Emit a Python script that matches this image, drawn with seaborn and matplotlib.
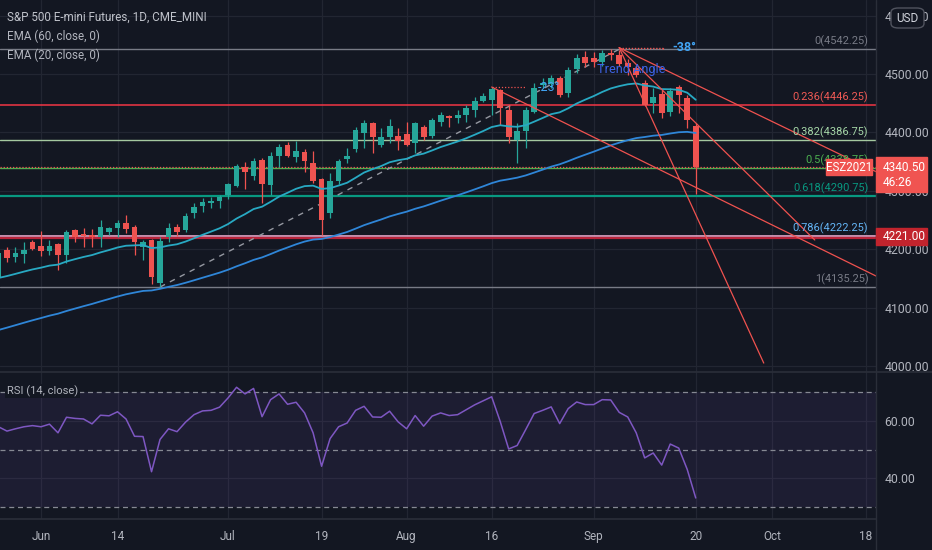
import numpy as np
import pandas as pd
import matplotlib
matplotlib.use("Agg")
import matplotlib.pyplot as plt
import seaborn as sns
from matplotlib.patches import Arc, Rectangle, FancyBboxPatch

# ---------------- data ----------------
holidays = ["2021-05-31", "2021-07-05", "2021-09-06"]
all_days = pd.bdate_range("2021-05-24", "2021-10-29")
trade_days = [d for d in all_days if d.strftime("%Y-%m-%d") not in holidays]

opens = [4150.7, 4198.6, 4186.6, 4191.7, 4212.3, 4205.4, 4196.9, 4208.9, 4190.0, 4232.8,
         4226.0, 4224.3, 4220.8, 4229.4, 4236.3, 4244.8, 4238.0, 4203.7, 4215.7, 4142.1,
         4220.8, 4238.0, 4232.8, 4261.9, 4273.9, 4279.1, 4282.5, 4292.8, 4308.2, 4340.7,
         4325.3, 4352.7, 4309.9, 4359.5, 4378.4, 4357.8, 4366.4, 4347.5, 4320.1, 4261.9,
         4316.7, 4354.4, 4371.5, 4398.9, 4416.0, 4378.4, 4392.0, 4393.8, 4397.2, 4381.8,
         4409.2, 4393.8, 4417.7, 4428.0, 4424.6, 4429.7, 4438.3, 4453.7, 4455.4, 4472.5,
         4438.3, 4386.9, 4402.3, 4434.8, 4481.1, 4482.8, 4493.1, 4467.4, 4508.5, 4529.0,
         4527.3, 4520.4, 4535.9, 4532.4, 4518.7, 4510.0, 4484.5, 4450.3, 4465.7, 4434.8,
         4477.6, 4458.8, 4410.9]
highs = [4196.9, 4203.7, 4203.7, 4212.3, 4215.7, 4231.0, 4215.7, 4210.6, 4232.8, 4234.0,
         4236.3, 4234.6, 4250.0, 4238.0, 4250.0, 4258.5, 4241.4, 4215.7, 4217.4, 4220.8,
         4244.8, 4243.0, 4261.9, 4279.1, 4287.6, 4289.3, 4292.8, 4313.3, 4345.8, 4349.2,
         4356.1, 4356.1, 4366.4, 4380.1, 4383.5, 4385.2, 4371.5, 4368.1, 4321.8, 4330.4,
         4354.4, 4373.2, 4409.2, 4421.2, 4418.0, 4407.5, 4422.9, 4407.5, 4417.7, 4417.7,
         4412.6, 4424.6, 4434.8, 4429.7, 4438.3, 4446.8, 4460.5, 4467.4, 4477.6, 4474.2,
         4446.8, 4416.0, 4443.4, 4484.5, 4493.1, 4498.2, 4496.5, 4511.9, 4534.2, 4540.0,
         4538.0, 4541.0, 4542.25, 4541.0, 4525.6, 4515.0, 4489.6, 4475.9, 4472.5, 4475.9,
         4481.1, 4464.0, 4416.0]
lows = [4148.0, 4178.0, 4178.0, 4176.3, 4198.6, 4188.3, 4190.0, 4164.4, 4176.3, 4212.3,
        4203.7, 4203.7, 4203.7, 4224.3, 4220.8, 4227.7, 4190.0, 4181.5, 4140.0, 4135.25,
        4212.3, 4222.6, 4229.4, 4253.4, 4263.6, 4270.5, 4270.5, 4285.9, 4306.5, 4303.0,
        4318.4, 4279.1, 4292.8, 4340.7, 4357.8, 4349.2, 4332.1, 4313.3, 4224.3, 4253.4,
        4311.6, 4347.5, 4366.4, 4373.2, 4364.7, 4374.9, 4381.8, 4369.8, 4376.7, 4364.7,
        4386.9, 4390.3, 4410.9, 4409.2, 4416.0, 4417.7, 4426.3, 4452.0, 4429.7, 4412.6,
        4381.8, 4347.5, 4373.2, 4433.1, 4475.9, 4475.9, 4460.5, 4460.5, 4501.6, 4511.9,
        4511.9, 4513.6, 4523.9, 4513.6, 4498.2, 4494.0, 4445.0, 4433.1, 4424.6, 4428.0,
        4433.1, 4407.5, 4294.0]
closes = [4193.5, 4184.9, 4193.5, 4198.6, 4200.3, 4196.9, 4205.4, 4190.0, 4229.4, 4220.8,
          4222.6, 4220.8, 4238.0, 4236.3, 4244.8, 4234.6, 4212.3, 4212.3, 4152.4, 4214.0,
          4236.3, 4229.4, 4256.8, 4272.2, 4280.8, 4282.5, 4289.3, 4311.6, 4342.4, 4332.1,
          4351.0, 4311.6, 4359.5, 4374.9, 4359.5, 4368.1, 4351.0, 4316.7, 4250.0, 4316.7,
          4351.0, 4359.5, 4404.0, 4416.0, 4392.0, 4392.0, 4410.9, 4385.2, 4378.4, 4416.0,
          4392.0, 4421.2, 4429.7, 4424.6, 4429.7, 4441.7, 4453.7, 4462.2, 4474.2, 4441.7,
          4392.0, 4402.3, 4438.3, 4475.9, 4484.5, 4493.1, 4464.0, 4506.8, 4527.3, 4518.7,
          4520.4, 4535.9, 4532.4, 4517.0, 4511.9, 4498.0, 4446.8, 4460.5, 4433.1, 4470.8,
          4464.0, 4421.2, 4340.5]
rsi = [57.9, 56.4, 57.2, 57.9, 58.3, 57.9, 58.8, 55.8, 61.2, 60.8,
       60.6, 58.9, 61.9, 61.7, 63.1, 60.6, 54.6, 54.5, 42.3, 53.5,
       57.2, 56.2, 59.5, 62.1, 63.4, 63.6, 64.7, 67.9, 71.6, 69.3,
       71.2, 61.4, 67.3, 69.3, 65.7, 66.4, 62.7, 55.8, 44.2, 53.8,
       57.9, 59.2, 63.6, 65.0, 61.3, 61.2, 63.3, 59.6, 57.2, 61.8,
       58.1, 61.6, 62.7, 61.8, 62.1, 63.8, 65.5, 66.9, 68.3, 59.8,
       50.2, 51.4, 56.9, 62.5, 63.6, 64.8, 59.0, 64.2, 66.5, 65.6,
       65.6, 67.3, 67.2, 62.9, 61.3, 55.8, 47.1, 48.8, 44.6, 51.9,
       50.5, 43.1, 33.2]
ema20_seed = 4150.7   # EMA(20) value read at the left edge
ema60_seed = 4061.6   # EMA(60) value read at the left edge

fib_ratios = ["0", "0.236", "0.382", "0.5", "0.618", "0.786", "1"]
fib_prices = [4542.25, 4446.25, 4386.75, 4338.75, 4290.75, 4222.25, 4135.25]
hline_price = 4221.00
last_price = 4340.50

tick_dates = ["2021-06-01", "2021-06-14", "2021-07-01", "2021-07-19", "2021-08-02",
              "2021-08-16", "2021-09-01", "2021-09-20", "2021-10-01", "2021-10-18"]
tick_labels = ["Jun", "14", "Jul", "19", "Aug", "16", "Sep", "20", "Oct", "18"]
price_ticks = [4000, 4100, 4200, 4300, 4400, 4500, 4600]
rsi_ticks = [40, 60]

# drawings: (date, price) anchors
fan_origin = ("2021-09-07", 4545.0)
fan_ends = [("2021-09-30", 4005.0), ("2021-10-08", 4215.7), ("2021-10-22", 4313.0)]
channel_line = [("2021-08-16", 4477.6), ("2021-10-22", 4134.0)]
fib_anchor = [("2021-06-21", 4135.25), ("2021-09-07", 4542.25)]

# ---------------- helpers ----------------
n = len(closes)
pos = {d.strftime("%Y-%m-%d"): i for i, d in enumerate(trade_days)}
def P(d):
    return pos[d]

idx = np.arange(n)
df = pd.DataFrame({"i": idx, "open": opens, "high": highs, "low": lows, "close": closes, "rsi": rsi})
df["ema20"] = pd.Series(np.r_[ema20_seed, closes[1:]]).ewm(span=20, adjust=False).mean()
df["ema60"] = pd.Series(np.r_[ema60_seed, closes[1:]]).ewm(span=60, adjust=False).mean()

BG = "#131722"
GRID = "#222632"
TXT = "#b2b5be"
UP = "#26a69a"
DN = "#ef5350"

sns.set_theme(style="dark", rc={"axes.facecolor": BG, "figure.facecolor": BG})
plt.rcParams["font.family"] = ["Roboto", "DejaVu Sans"]

W, H = 932, 550
fig = plt.figure(figsize=(W / 100, H / 100), dpi=100, facecolor=BG)
ax = fig.add_axes([0, 1 - 372 / H, 876 / W, 372 / H])
rax = fig.add_axes([0, 1 - 519 / H, 876 / W, 147 / H], sharex=ax)

xmin, xmax = 0.18, 103.2
for a in (ax, rax):
    a.set_facecolor(BG)
    for s in a.spines.values():
        s.set_visible(False)
    a.set_xlim(xmin, xmax)
    for t in tick_dates:
        a.axvline(P(t), color=GRID, lw=0.9, zorder=0)

ax.set_ylim(3989.7, 4626.6)
for p in price_ticks:
    ax.axhline(p, color=GRID, lw=0.9, zorder=0)

# fib levels
fib_line_colors = ["#787b86", "#f23645", "#a5c9a0", "#4caf50", "#089981", "#e6a6c8", "#787b86"]
fib_text_colors = ["#787b86", "#f05a55", "#a5d6a7", "#4caf50", "#089981", "#64b5f6", "#787b86"]
fib_lw = [1.0, 1.1, 1.0, 1.0, 1.6, 1.2, 1.0]
for r, p, lc, tc, lw in zip(fib_ratios, fib_prices, fib_line_colors, fib_text_colors, fib_lw):
    ax.axhline(p, color=lc, lw=lw, zorder=1)
    ax.text(102.3, p + 4, f"{r}({p:.2f})", color=tc, fontsize=7.9, ha="right", va="bottom", zorder=6)
ax.axhline(hline_price - 1.2, color="#b8233a", lw=1.6, zorder=1)
ax.axhline(last_price, color=DN, lw=0.9, ls=(0, (1, 1.5)), zorder=1)

# fib trend (dashed)
ax.plot([P(fib_anchor[0][0]), P(fib_anchor[1][0])], [fib_anchor[0][1], fib_anchor[1][1]],
        color="#9598a1", lw=1.0, ls=(0, (4, 4)), zorder=2)

# candles
colors = np.where(df["close"] >= df["open"], UP, DN)
ax.vlines(df["i"], df["low"], df["high"], colors=colors, lw=0.9, zorder=3)
ax.bar(df["i"], (df["close"] - df["open"]).abs().clip(lower=0.8),
       bottom=np.minimum(df["open"], df["close"]), width=0.68, color=colors, zorder=4, linewidth=0)

# EMAs
sns.lineplot(data=df, x="i", y="ema20", ax=ax, color="#28a9c3", lw=1.3, zorder=5)
sns.lineplot(data=df, x="i", y="ema60", ax=ax, color="#2f86d8", lw=1.3, zorder=5)

# trend lines
ox, oy = P(fan_origin[0]), fan_origin[1]
for d, p in fan_ends:
    ax.plot([ox, P(d)], [oy, p], color="#f0524f", lw=0.9, zorder=5)
ax.plot([P(channel_line[0][0]), P(channel_line[1][0])], [channel_line[0][1], channel_line[1][1]],
        color="#f0524f", lw=0.9, zorder=5)
# trend angle helpers
ax.plot([P("2021-08-16"), P("2021-08-20")], [4477.6, 4477.6], color="#f0524f", lw=0.9, ls=(0, (1, 1.5)), zorder=5)
ax.plot([ox, ox + 5.2], [oy, oy], color="#f0524f", lw=1.0, ls=(0, (1, 1.2)), zorder=5)
ax.add_patch(Arc((ox, oy), 10.4, 150, theta1=-33, theta2=0, color="#f0524f", lw=1.0, ls=(0, (1, 1.2)), zorder=5))
ax.text(P("2021-08-20") + 1.4, 4477.6, "-23°", color="#42a5f5", fontsize=9, va="center", zorder=6)
ax.text(ox + 6.3, oy + 1, "-38°", color="#42a5f5", fontsize=9, fontweight="bold", va="center", zorder=6)
ax.text(ox - 2.6, 4508, "Trend Angle", color="#3d63e6", fontsize=9.2, va="center", zorder=6)

ax.yaxis.tick_right()
ax.set_yticks(price_ticks)
ax.set_yticklabels([f"{p:.2f}" for p in price_ticks])
ax.tick_params(axis="y", colors=TXT, labelsize=8.8, length=0, pad=6)
ax.tick_params(axis="x", length=0, labelbottom=False)
ax.set_xlabel("")
ax.set_ylabel("")

# RSI panel
rax.set_ylim(25.9, 76.9)
for p in rsi_ticks:
    rax.axhline(p, color=GRID, lw=0.9, zorder=0)
rax.axhspan(30, 70, color="#7e57c2", alpha=0.10, lw=0, zorder=0)
for p in (70, 50, 30):
    rax.axhline(p, color="#868993", lw=0.9, ls=(0, (4, 3)), zorder=1)
sns.lineplot(data=df, x="i", y="rsi", ax=rax, color="#7e57c2", lw=1.1, zorder=3)
rax.yaxis.tick_right()
rax.set_yticks(rsi_ticks)
rax.set_yticklabels([f"{p:.2f}" for p in rsi_ticks])
rax.tick_params(axis="y", colors=TXT, labelsize=8.8, length=0, pad=6)
rax.set_xticks([P(t) for t in tick_dates])
rax.set_xticklabels(tick_labels)
rax.tick_params(axis="x", colors=TXT, labelsize=8.5, length=0, pad=8)
rax.set_xlabel("")
rax.set_ylabel("")

# separators
fig.add_artist(plt.Line2D([0, 1], [1 - 372 / H] * 2, color="#2a2e39", lw=1.2))
fig.add_artist(plt.Line2D([0, 876 / W], [1 - 519 / H] * 2, color="#2a2e39", lw=1.2))
fig.add_artist(plt.Line2D([876 / W] * 2, [0, 1], color="#2a2e39", lw=1.0))

def fx(x):
    return x / W
def fy(y):
    return 1 - y / H

# legend texts
fig.text(fx(7), fy(17), "S&P 500 E-mini Futures, 1D, CME_MINI", color="#c0c3cb", fontsize=8.4, va="center")
fig.text(fx(7), fy(36), "EMA (60, close, 0)", color="#b2b5be", fontsize=8.4, va="center")
fig.text(fx(7), fy(55), "EMA (20, close, 0)", color="#b2b5be", fontsize=8.4, va="center")
fig.text(fx(7), fy(391), "RSI (14, close)", color="#b2b5be", fontsize=8, va="center",
         bbox=dict(boxstyle="square,pad=0.15", fc=BG, ec="none"))

# price labels
fig.add_artist(Rectangle((fx(826), fy(175)), fx(872) - fx(826), (175 - 159) / H, color="#f05451", zorder=10))
fig.text(fx(849), fy(167), "ESZ2021", color="white", fontsize=8.3, ha="center", va="center", zorder=11)
fig.add_artist(Rectangle((fx(876), fy(192)), fx(927) - fx(876), (192 - 157) / H, color="#f05451", zorder=10))
fig.text(fx(883), fy(167), f"{last_price:.2f}", color="white", fontsize=8.6, ha="left", va="center", zorder=11)
fig.text(fx(883), fy(183), "46:26", color="white", fontsize=8.6, ha="left", va="center", zorder=11)
fig.add_artist(Rectangle((fx(876), fy(245)), fx(927) - fx(876), (245 - 228) / H, color="#c2242d", zorder=10))
fig.text(fx(883), fy(236.5), f"{hline_price:.2f}", color="white", fontsize=8.6, ha="left", va="center", zorder=11)
fig.add_artist(FancyBboxPatch((fx(891), fy(28)), fx(924) - fx(891), 20 / H,
                              boxstyle="round,pad=0,rounding_size=0.008", fc=BG, ec="#50535e", lw=1, zorder=10))
fig.text(fx(907.5), fy(18), "USD", color="#d1d4dc", fontsize=8.5, ha="center", va="center", zorder=11)

fig.savefig("out.png", dpi=100, facecolor=BG)
